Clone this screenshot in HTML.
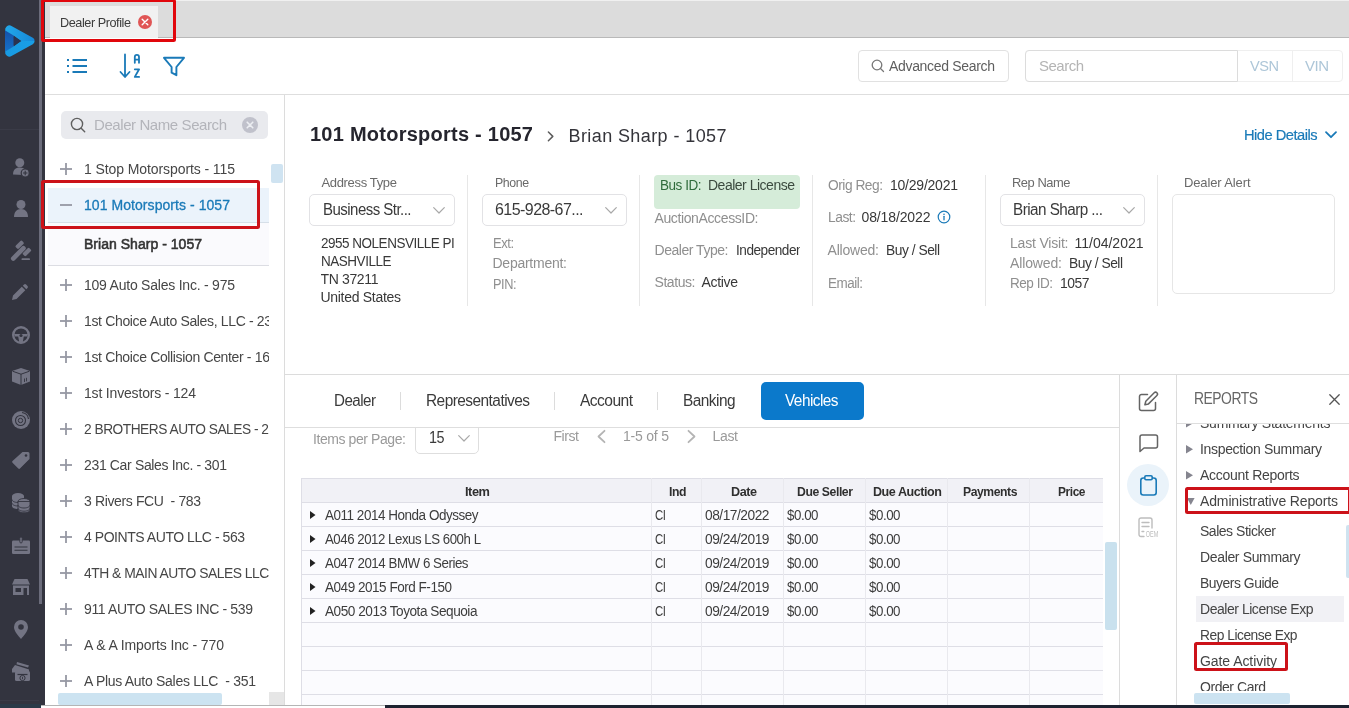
<!DOCTYPE html>
<html lang="en"><head><meta charset="utf-8"><title>Dealer Profile</title>
<style>
html,body{margin:0;padding:0;}
body{width:1349px;height:708px;overflow:hidden;position:relative;background:#fff;font-family:"Liberation Sans", sans-serif;}
div{position:absolute;box-sizing:border-box;}
svg{position:absolute;overflow:visible;}
.t{white-space:pre;}
</style></head><body>
<div style="left:45px;top:0px;width:1304px;height:38px;background:#dcdcdc;border-bottom:1px solid #b9b9b9;border-top:1px solid #f0f0f0;"></div>
<div style="left:50px;top:6px;width:108px;height:32px;background:#f1f1f1;"></div>
<div class="t" style="left:60px;top:14px;font-size:13px;line-height:17px;color:#3c3c3c;letter-spacing:-0.455px;"><span style="display:inline-block;transform-origin:0 50%;transform:scaleX(0.9746)">Dealer Profile</span></div>
<svg style="left:138.200px;top:15.300px" width="14" height="14" viewBox="0 0 14 14"><circle cx="7" cy="7" r="7" fill="#e05555"/><path d="M4.200 4.200l5.600 5.600M9.800 4.200l-5.600 5.600" stroke="#fff" stroke-width="1.400" stroke-linecap="round"/></svg>
<div style="left:45px;top:38px;width:1304px;height:57px;background:#fff;border-bottom:1px solid #dedede;"></div>
<svg style="left:66px;top:58px" width="22" height="16" viewBox="0 0 22 16"><g stroke="#1a7ab8" stroke-width="1.900" fill="none"><path d="M6.500 2h14.500M6.500 8h14.500M6.500 14h14.500"/><path d="M1 2h2M1 8h2M1 14h2"/></g></svg>
<svg style="left:119px;top:53px" width="24" height="26" viewBox="0 0 24 26"><g stroke="#1a7ab8" stroke-width="1.8" fill="none" stroke-linecap="round" stroke-linejoin="round"><path d="M6 1.5v22M1.5 19l4.5 5 4.5-5"/><path d="M15.800 9.800V3.900a2.100 2.100 0 0 1 4.200 0v5.900M15.800 6.600h4.200"/><path d="M15.800 16.300h4.300l-4.300 7.600h4.300"/></g></svg>
<svg style="left:162px;top:55.800px" width="24" height="22" viewBox="0 0 24 22"><path d="M2 1.800h20l-7.600 9.200v8.200l-4.800-2.500v-5.700z" stroke="#1a7ab8" stroke-width="1.9" fill="none" stroke-linejoin="round"/></svg>
<div style="left:858px;top:50px;width:151px;height:32px;background:#fff;border:1px solid #e1e1e1;border-radius:4px;"></div>
<svg style="left:871px;top:59px" width="14" height="14" viewBox="0 0 14 14"><circle cx="6" cy="6" r="4.800" stroke="#777" stroke-width="1.300" fill="none"/><path d="M9.500 9.500l3 3" stroke="#777" stroke-width="1.300" stroke-linecap="round"/></svg>
<div class="t" style="left:889px;top:57px;font-size:14px;line-height:18px;color:#5e5e5e;letter-spacing:-0.324px;">Advanced Search</div>
<div style="left:1025px;top:50px;width:318px;height:32px;background:#fff;border:1px solid #efefef;border-radius:4px;"></div>
<div style="left:1025px;top:50px;width:213px;height:32px;background:#fff;border:1px solid #dcdcdc;border-radius:4px 0 0 4px;"></div>
<div style="left:1292px;top:51px;width:1px;height:30px;background:#efefef;"></div>
<div class="t" style="left:1039px;top:56px;font-size:15px;line-height:20px;color:#b4b4b4;letter-spacing:-0.506px;">Search</div>
<div class="t" style="left:1250px;top:56px;font-size:15px;line-height:20px;color:#adc6d8;letter-spacing:-0.525px;"><span style="display:inline-block;transform-origin:0 50%;transform:scaleX(0.9734)">VSN</span></div>
<div class="t" style="left:1305px;top:56px;font-size:15px;line-height:20px;color:#adc6d8;letter-spacing:-0.508px;">VIN</div>
<div style="left:284px;top:95px;width:1px;height:613px;background:#dcdcdc;"></div>
<div style="left:61px;top:111px;width:207px;height:28px;background:#e9eaee;border-radius:5px;"></div>
<svg style="left:70px;top:117px" width="17" height="17" viewBox="0 0 17 17"><circle cx="7" cy="7" r="5.600" stroke="#5f5f5f" stroke-width="1.400" fill="none"/><path d="M11.200 11.200l3.500 3.500" stroke="#5f5f5f" stroke-width="1.400" stroke-linecap="round"/></svg>
<div class="t" style="left:94px;top:115px;font-size:15px;line-height:20px;color:#b3b4ba;letter-spacing:-0.415px;">Dealer Name Search</div>
<svg style="left:242px;top:117px" width="16" height="16" viewBox="0 0 16 16"><circle cx="8" cy="8" r="8" fill="#c0c1cb"/><path d="M5.200 5.200l5.600 5.600M10.800 5.200l-5.600 5.600" stroke="#eceef2" stroke-width="1.600" stroke-linecap="round"/></svg>
<div style="left:48px;top:188px;width:221px;height:35px;background:#ebf3fb;border-bottom:1px solid #d6dfe8;"></div>
<div style="left:48px;top:223px;width:221px;height:43px;background:#fafafd;border-bottom:1px solid #dcdde3;"></div>
<svg style="left:60px;top:163px" width="12" height="12" viewBox="0 0 12 12"><g stroke="#9698a3" stroke-width="1.800" fill="none"><path d="M0 6h12"/><path d="M6 0v12"/></g></svg>
<div class="t" style="left:84px;top:160px;font-size:14px;line-height:18px;color:#464646;letter-spacing:-0.089px;width:185px;overflow:hidden;">1 Stop Motorsports - 115</div>
<svg style="left:60px;top:279px" width="12" height="12" viewBox="0 0 12 12"><g stroke="#9698a3" stroke-width="1.800" fill="none"><path d="M0 6h12"/><path d="M6 0v12"/></g></svg>
<div class="t" style="left:84px;top:276px;font-size:14px;line-height:18px;color:#464646;letter-spacing:-0.227px;width:185px;overflow:hidden;">109 Auto Sales Inc. - 975</div>
<svg style="left:60px;top:315px" width="12" height="12" viewBox="0 0 12 12"><g stroke="#9698a3" stroke-width="1.800" fill="none"><path d="M0 6h12"/><path d="M6 0v12"/></g></svg>
<div class="t" style="left:84px;top:312px;font-size:14px;line-height:18px;color:#464646;letter-spacing:-0.347px;width:185px;overflow:hidden;">1st Choice Auto Sales, LLC - 236</div>
<svg style="left:60px;top:351px" width="12" height="12" viewBox="0 0 12 12"><g stroke="#9698a3" stroke-width="1.800" fill="none"><path d="M0 6h12"/><path d="M6 0v12"/></g></svg>
<div class="t" style="left:84px;top:348px;font-size:14px;line-height:18px;color:#464646;letter-spacing:-0.353px;width:185px;overflow:hidden;">1st Choice Collision Center - 167</div>
<svg style="left:60px;top:387px" width="12" height="12" viewBox="0 0 12 12"><g stroke="#9698a3" stroke-width="1.800" fill="none"><path d="M0 6h12"/><path d="M6 0v12"/></g></svg>
<div class="t" style="left:84px;top:384px;font-size:14px;line-height:18px;color:#464646;letter-spacing:-0.176px;width:185px;overflow:hidden;">1st Investors - 124</div>
<svg style="left:60px;top:423px" width="12" height="12" viewBox="0 0 12 12"><g stroke="#9698a3" stroke-width="1.800" fill="none"><path d="M0 6h12"/><path d="M6 0v12"/></g></svg>
<div class="t" style="left:84px;top:420px;font-size:14px;line-height:18px;color:#464646;letter-spacing:-0.49px;width:185px;overflow:hidden;"><span style="display:inline-block;transform-origin:0 50%;transform:scaleX(0.9803)">2 BROTHERS AUTO SALES - 222</span></div>
<svg style="left:60px;top:459px" width="12" height="12" viewBox="0 0 12 12"><g stroke="#9698a3" stroke-width="1.800" fill="none"><path d="M0 6h12"/><path d="M6 0v12"/></g></svg>
<div class="t" style="left:84px;top:456px;font-size:14px;line-height:18px;color:#464646;letter-spacing:-0.347px;width:185px;overflow:hidden;">231 Car Sales Inc. - 301</div>
<svg style="left:60px;top:495px" width="12" height="12" viewBox="0 0 12 12"><g stroke="#9698a3" stroke-width="1.800" fill="none"><path d="M0 6h12"/><path d="M6 0v12"/></g></svg>
<div class="t" style="left:84px;top:492px;font-size:14px;line-height:18px;color:#464646;letter-spacing:-0.372px;width:185px;overflow:hidden;">3 Rivers FCU  - 783</div>
<svg style="left:60px;top:531px" width="12" height="12" viewBox="0 0 12 12"><g stroke="#9698a3" stroke-width="1.800" fill="none"><path d="M0 6h12"/><path d="M6 0v12"/></g></svg>
<div class="t" style="left:84px;top:528px;font-size:14px;line-height:18px;color:#464646;letter-spacing:-0.451px;width:185px;overflow:hidden;">4 POINTS AUTO LLC - 563</div>
<svg style="left:60px;top:567px" width="12" height="12" viewBox="0 0 12 12"><g stroke="#9698a3" stroke-width="1.800" fill="none"><path d="M0 6h12"/><path d="M6 0v12"/></g></svg>
<div class="t" style="left:84px;top:564px;font-size:14px;line-height:18px;color:#464646;letter-spacing:-0.49px;width:185px;overflow:hidden;"><span style="display:inline-block;transform-origin:0 50%;transform:scaleX(0.9901)">4TH &amp; MAIN AUTO SALES LLC - 400</span></div>
<svg style="left:60px;top:603px" width="12" height="12" viewBox="0 0 12 12"><g stroke="#9698a3" stroke-width="1.800" fill="none"><path d="M0 6h12"/><path d="M6 0v12"/></g></svg>
<div class="t" style="left:84px;top:600px;font-size:14px;line-height:18px;color:#464646;letter-spacing:-0.344px;width:185px;overflow:hidden;">911 AUTO SALES INC - 539</div>
<svg style="left:60px;top:639px" width="12" height="12" viewBox="0 0 12 12"><g stroke="#9698a3" stroke-width="1.800" fill="none"><path d="M0 6h12"/><path d="M6 0v12"/></g></svg>
<div class="t" style="left:84px;top:636px;font-size:14px;line-height:18px;color:#464646;letter-spacing:-0.109px;width:185px;overflow:hidden;">A &amp; A Imports Inc - 770</div>
<svg style="left:60px;top:675px" width="12" height="12" viewBox="0 0 12 12"><g stroke="#9698a3" stroke-width="1.800" fill="none"><path d="M0 6h12"/><path d="M6 0v12"/></g></svg>
<div class="t" style="left:84px;top:672px;font-size:14px;line-height:18px;color:#464646;letter-spacing:-0.288px;width:185px;overflow:hidden;">A Plus Auto Sales LLC  - 351</div>
<svg style="left:60px;top:199px" width="12" height="12" viewBox="0 0 12 12"><g stroke="#9698a3" stroke-width="1.800" fill="none"><path d="M0 6h12"/></g></svg>
<div class="t" style="left:84px;top:196px;font-size:14px;line-height:18px;color:#1a7ab8;letter-spacing:0.06px;-webkit-text-stroke:0.3px #1a7ab8;">101 Motorsports - 1057</div>
<div class="t" style="left:84px;top:235px;font-size:14px;line-height:18px;color:#333;letter-spacing:0.028px;-webkit-text-stroke:0.550px #333;">Brian Sharp - 1057</div>
<div style="left:271px;top:164px;width:11.5px;height:19px;background:#cfe3f1;border-radius:2px;"></div>
<div style="left:58px;top:693px;width:164px;height:12px;background:#cce3f1;border-radius:2px;"></div>
<div style="left:269px;top:692px;width:15px;height:14px;background:#e6e6e6;"></div>
<div style="left:0px;top:0px;width:45px;height:708px;background:#33343f;"></div>
<div style="left:39px;top:0px;width:3px;height:604px;background:#6b6c7b;"></div>
<div style="left:0px;top:129px;width:39px;height:1px;background:#3a3b47;"></div>
<div style="left:0px;top:700px;width:39px;height:1px;background:#3a3b47;"></div>
<svg style="left:4px;top:24px" width="32" height="34" viewBox="0 0 32 34"><defs><linearGradient id="lg1" x1="0" y1="0" x2="1" y2="0"><stop offset="0" stop-color="#22a8ea"/><stop offset="1" stop-color="#1688d8"/></linearGradient><linearGradient id="lg2" x1="0" y1="0" x2="1" y2="0"><stop offset="0" stop-color="#189ae2"/><stop offset="1" stop-color="#1a9fe6"/></linearGradient><linearGradient id="lg3" x1="0" y1="0" x2="0" y2="1"><stop offset="0" stop-color="#1550a8"/><stop offset="1" stop-color="#1672c8"/></linearGradient></defs><path d="M1 6v22l9-5v-12z" fill="url(#lg3)"/><path d="M1.200 27.500a4.300 4.300 0 0 0 6.300 4.600l21.300-11.900a3.600 3.600 0 0 0 1.800-3.200h-9l-4.600 0l-7 5.300z" fill="url(#lg2)"/><path d="M1.200 6.500a4.300 4.300 0 0 1 6.300-4.600l21.300 11.900a3.600 3.600 0 0 1 1.800 3.200l-13.600 0l-7-5.300z" fill="url(#lg1)"/><path d="M9.500 12.200l7.800 4.800-7.800 4.800z" fill="#2a3350"/></svg>
<svg style="left:13px;top:157.5px" width="16" height="19" viewBox="0 0 16 19" fill="#737483"><circle cx="6.800" cy="4.800" r="4.500"/><path d="M0 16.500c0-4.500 2.500-7 6.800-7 3 0 5 1.200 6 3.200l-2 4.300z"/><circle cx="12.200" cy="15" r="4" stroke="#33343f" stroke-width="1.200"/><path d="M12.200 12.800v4.400M10 15h4.400" stroke="#33343f" stroke-width="1.100" fill="none"/></svg>
<svg style="left:13.5px;top:199.5px" width="14" height="17" viewBox="0 0 14 17" fill="#737483"><circle cx="7" cy="4.500" r="4.500"/><path d="M0 17c0-5 2.600-8 7-8s7 3 7 8z"/></svg>
<svg style="left:0px;top:0px" width="45" height="300" viewBox="0 0 45 300" fill="#737483"><g transform="translate(23.300,248.400) rotate(-45)"><rect x="-16.500" y="-2.300" width="19" height="4.600" rx="2.200"/><rect x="-4.500" y="-7.300" width="9" height="4.300" rx="1.300"/><rect x="-4.500" y="3" width="9" height="4.300" rx="1.300"/></g><rect x="21.500" y="258.200" width="8.500" height="1.900" rx="0.900"/></svg>
<svg style="left:12px;top:284px" width="16" height="16" viewBox="0 0 16 16" fill="#737483"><path d="M0 16l1-4.500 8.800-8.800 3.500 3.500-8.800 8.800zM10.800 1.700l1.200-1.200a1.500 1.500 0 0 1 2.100 0l1.400 1.400a1.500 1.500 0 0 1 0 2.100l-1.200 1.200z"/></svg>
<svg style="left:12px;top:326px" width="18" height="18" viewBox="0 0 18 18" fill="#737483"><circle cx="9" cy="9" r="7.800" fill="none" stroke="#737483" stroke-width="2.400"/><path d="M2 8h14l-1 2.500h-3.200l-1 5.500h-3.600l-1-5.500h-3.200z"/><circle cx="9" cy="9.500" r="1.600" fill="#33343f"/></svg>
<svg style="left:12px;top:368px" width="18" height="17" viewBox="0 0 18 17" fill="#737483"><path d="M9 0l9 3v10.500l-9 3.500-9-3.500v-10.500z"/><path d="M9 6v11M0.500 3.200l8.500 3 8.500-3" stroke="#33343f" stroke-width="1" fill="none"/><path d="M12.500 10.500v3.500M14.500 9.800v3.500" stroke="#33343f" stroke-width="0.900" fill="none"/></svg>
<svg style="left:12px;top:410.5px" width="18" height="18" viewBox="0 0 18 18" fill="#737483"><circle cx="9" cy="9" r="9"/><circle cx="8.500" cy="9.500" r="5" fill="none" stroke="#33343f" stroke-width="1.100"/><circle cx="8.500" cy="9.500" r="2.200" fill="none" stroke="#33343f" stroke-width="1"/><path d="M10 1.500a7.500 7.500 0 0 1 6.500 6.500" stroke="#33343f" stroke-width="1.200" fill="none"/></svg>
<svg style="left:12px;top:451px" width="18" height="18" viewBox="0 0 18 18" fill="#737483"><path d="M10.500 1h5.500a1.500 1.500 0 0 1 1.500 1.500v5.500l-9.500 9.500a1.200 1.200 0 0 1-1.700 0l-5.800-5.800a1.200 1.200 0 0 1 0-1.700z"/><circle cx="14" cy="4.500" r="1.300" fill="#33343f"/><path d="M17 9.500l-8 8" stroke="#33343f" stroke-width="0.800"/></svg>
<svg style="left:12px;top:493px" width="18" height="20" viewBox="0 0 18 20" fill="#737483"><ellipse cx="6" cy="3" rx="6" ry="3"/><path d="M0 3v10c0 1.700 2.700 3 6 3s6-1.300 6-3v-10z"/><path d="M0 6.500c0 1.700 2.700 3 6 3M0 10c0 1.700 2.700 3 6 3" stroke="#33343f" stroke-width="0.900" fill="none"/><g stroke="#33343f" stroke-width="0.900"><ellipse cx="12" cy="8.500" rx="6" ry="3"/><path d="M6 8.500v8.300c0 1.700 2.700 3 6 3s6-1.300 6-3v-8.300z"/></g><path d="M6 12c0 1.700 2.700 3 6 3s6-1.300 6-3M6 15.200c0 1.700 2.700 3 6 3s6-1.300 6-3" stroke="#33343f" stroke-width="0.900" fill="none"/></svg>
<svg style="left:12px;top:536.5px" width="18" height="17" viewBox="0 0 18 17" fill="#737483"><rect x="0" y="3.500" width="18" height="13.500" rx="1.200"/><rect x="7.800" y="0" width="2.400" height="6" rx="1.200" stroke="#33343f" stroke-width="0.900"/><path d="M2.500 10h13M2.500 13.200h13" stroke="#33343f" stroke-width="1.100"/></svg>
<svg style="left:12px;top:579px" width="18" height="16" viewBox="0 0 18 16" fill="#737483"><path d="M2.500 0h13l2.500 5.500h-18z"/><rect x="1" y="6.500" width="16" height="9.500"/><rect x="3.500" y="9" width="5.500" height="4" fill="#33343f"/><rect x="11.500" y="9" width="3.500" height="7" fill="#33343f"/></svg>
<svg style="left:14px;top:620px" width="14" height="19" viewBox="0 0 14 19" fill="#737483"><path d="M7 0a7 7 0 0 1 7 7c0 4.500-4.500 9-7 12-2.500-3-7-7.500-7-12a7 7 0 0 1 7-7z"/><circle cx="7" cy="7" r="2.800" fill="#33343f"/></svg>
<svg style="left:12px;top:662px" width="18" height="19" viewBox="0 0 18 19" fill="#737483"><path d="M5 0l12 3.500-1 2-11.500-3.300z"/><path d="M0 7l3-4 14 4.500v3h-17z"/><rect x="3" y="9" width="15" height="10" rx="1.500"/><path d="M5.500 12.500h10" stroke="#33343f" stroke-width="1.200"/><circle cx="10.500" cy="16" r="2.600" stroke="#33343f" stroke-width="1"/><path d="M10.500 14.800v2.400" stroke="#33343f" stroke-width="0.900"/></svg>
<div class="t" style="left:310px;top:121.47px;font-size:20px;line-height:26px;color:#25252e;font-weight:700;letter-spacing:0.245px;">101 Motorsports - 1057</div>
<svg style="left:547px;top:130.500px" width="8" height="11" viewBox="0 0 8 11"><path d="M1.400 1l4.400 4.400-4.400 4.400" stroke="#5c5c5c" stroke-width="1.500" fill="none" stroke-linecap="round" stroke-linejoin="round"/></svg>
<div class="t" style="left:568.5px;top:125.263px;font-size:18px;line-height:23px;color:#34343a;letter-spacing:0.406px;">Brian Sharp - 1057</div>
<div class="t" style="left:1243.5px;top:125.303px;font-size:15px;line-height:20px;color:#1a7ab8;letter-spacing:-0.525px;-webkit-text-stroke:0.2px #1a7ab8;"><span style="display:inline-block;transform-origin:0 50%;transform:scaleX(0.9787)">Hide Details</span></div>
<svg style="left:1325px;top:131px" width="12" height="8" viewBox="0 0 12 8"><path d="M1 1.200l5 5 5-5" stroke="#1a7ab8" stroke-width="1.800" fill="none" stroke-linecap="round" stroke-linejoin="round"/></svg>
<div style="left:467px;top:175px;width:1px;height:131px;background:#e7e7e7;"></div>
<div style="left:639px;top:175px;width:1px;height:131px;background:#e7e7e7;"></div>
<div style="left:812px;top:175px;width:1px;height:131px;background:#e7e7e7;"></div>
<div style="left:985px;top:175px;width:1px;height:131px;background:#e7e7e7;"></div>
<div style="left:1157px;top:175px;width:1px;height:131px;background:#e7e7e7;"></div>
<div class="t" style="left:321.5px;top:174.495px;font-size:13px;line-height:17px;color:#6a6a6a;letter-spacing:-0.342px;">Address Type</div>
<div style="left:309px;top:194px;width:146px;height:32px;background:#fff;border:1px solid #e2e2e5;border-radius:5px;"></div>
<div class="t" style="left:322.5px;top:199.456px;font-size:16px;line-height:21px;color:#3a3a3a;letter-spacing:-0.56px;"><span style="display:inline-block;transform-origin:0 50%;transform:scaleX(0.9372)">Business Str...</span></div>
<svg style="left:433px;top:207px" width="12" height="7" viewBox="0 0 12 7"><path d="M0.700 0.700l5.300 5.300 5.300-5.300" stroke="#a8a8a8" stroke-width="1.200" fill="none" stroke-linecap="round" stroke-linejoin="round"/></svg>
<div class="t" style="left:320.5px;top:234.149px;font-size:14px;line-height:18px;color:#383838;letter-spacing:-0.49px;width:134.5px;overflow:hidden;"><span style="display:inline-block;transform-origin:0 50%;transform:scaleX(0.962)">2955 NOLENSVILLE PIKE</span></div>
<div class="t" style="left:320.5px;top:252.149px;font-size:14px;line-height:18px;color:#383838;letter-spacing:-0.49px;width:134.5px;overflow:hidden;"><span style="display:inline-block;transform-origin:0 50%;transform:scaleX(0.9641)">NASHVILLE</span></div>
<div class="t" style="left:320.5px;top:270.149px;font-size:14px;line-height:18px;color:#383838;letter-spacing:-0.35px;width:134.5px;overflow:hidden;">TN 37211</div>
<div class="t" style="left:320.5px;top:288.149px;font-size:14px;line-height:18px;color:#383838;letter-spacing:-0.297px;width:134.5px;overflow:hidden;">United States</div>
<div class="t" style="left:494.5px;top:174.495px;font-size:13px;line-height:17px;color:#6a6a6a;letter-spacing:-0.455px;"><span style="display:inline-block;transform-origin:0 50%;transform:scaleX(0.9504)">Phone</span></div>
<div style="left:482px;top:194px;width:145px;height:32px;background:#fff;border:1px solid #e2e2e5;border-radius:5px;"></div>
<div class="t" style="left:495px;top:199.456px;font-size:16px;line-height:21px;color:#3a3a3a;letter-spacing:-0.557px;">615-928-67...</div>
<svg style="left:605px;top:207px" width="12" height="7" viewBox="0 0 12 7"><path d="M0.700 0.700l5.300 5.300 5.300-5.300" stroke="#a8a8a8" stroke-width="1.200" fill="none" stroke-linecap="round" stroke-linejoin="round"/></svg>
<div class="t" style="left:492.5px;top:234.149px;font-size:14px;line-height:18px;color:#8f8f8f;letter-spacing:-0.49px;"><span style="display:inline-block;transform-origin:0 50%;transform:scaleX(0.9269)">Ext:</span></div>
<div class="t" style="left:492.5px;top:254.149px;font-size:14px;line-height:18px;color:#8f8f8f;letter-spacing:-0.255px;">Department:</div>
<div class="t" style="left:492.5px;top:274.649px;font-size:14px;line-height:18px;color:#8f8f8f;letter-spacing:-0.49px;"><span style="display:inline-block;transform-origin:0 50%;transform:scaleX(0.9121)">PIN:</span></div>
<div style="left:654px;top:175px;width:146px;height:34px;background:#d5ecd9;border-radius:4px;"></div>
<div class="t" style="left:659.5px;top:176.149px;font-size:14px;line-height:18px;color:#2f6b3b;letter-spacing:-0.49px;"><span style="display:inline-block;transform-origin:0 50%;transform:scaleX(0.9659)">Bus ID:</span></div>
<div class="t" style="left:707.5px;top:176.149px;font-size:14px;line-height:18px;color:#3b4a3f;letter-spacing:-0.49px;"><span style="display:inline-block;transform-origin:0 50%;transform:scaleX(0.9998)">Dealer License</span></div>
<div class="t" style="left:654.5px;top:209.149px;font-size:14px;line-height:18px;color:#8f8f8f;letter-spacing:-0.381px;">AuctionAccessID:</div>
<div class="t" style="left:654.5px;top:241.149px;font-size:14px;line-height:18px;color:#8f8f8f;letter-spacing:-0.466px;">Dealer Type:</div>
<div class="t" style="left:735.5px;top:241.149px;font-size:14px;line-height:18px;color:#383838;letter-spacing:-0.49px;width:64.5px;overflow:hidden;"><span style="display:inline-block;transform-origin:0 50%;transform:scaleX(0.9716)">Independent</span></div>
<div class="t" style="left:654.5px;top:273.149px;font-size:14px;line-height:18px;color:#8f8f8f;letter-spacing:-0.432px;">Status:</div>
<div class="t" style="left:701.5px;top:273.149px;font-size:14px;line-height:18px;color:#383838;letter-spacing:-0.325px;">Active</div>
<div class="t" style="left:827.5px;top:175.649px;font-size:14px;line-height:18px;color:#8f8f8f;letter-spacing:-0.49px;"><span style="display:inline-block;transform-origin:0 50%;transform:scaleX(0.9821)">Orig Reg:</span></div>
<div class="t" style="left:890px;top:175.649px;font-size:14px;line-height:18px;color:#383838;letter-spacing:-0.231px;">10/29/2021</div>
<div class="t" style="left:827.5px;top:208.149px;font-size:14px;line-height:18px;color:#8f8f8f;letter-spacing:-0.49px;"><span style="display:inline-block;transform-origin:0 50%;transform:scaleX(0.9859)">Last:</span></div>
<div class="t" style="left:861.5px;top:208.149px;font-size:14px;line-height:18px;color:#383838;letter-spacing:-0.12px;">08/18/2022</div>
<svg style="left:937px;top:210px" width="14" height="14" viewBox="0 0 14 14"><circle cx="7" cy="7" r="5.800" stroke="#1a7ab8" stroke-width="1.200" fill="none"/><path d="M7 6.300v3.500" stroke="#1a7ab8" stroke-width="1.300" stroke-linecap="round"/><circle cx="7" cy="4.300" r="0.800" fill="#1a7ab8"/></svg>
<div class="t" style="left:827.5px;top:241.149px;font-size:14px;line-height:18px;color:#8f8f8f;letter-spacing:-0.203px;">Allowed:</div>
<div class="t" style="left:885.5px;top:241.149px;font-size:14px;line-height:18px;color:#383838;letter-spacing:-0.49px;"><span style="display:inline-block;transform-origin:0 50%;transform:scaleX(0.9867)">Buy / Sell</span></div>
<div class="t" style="left:827.5px;top:273.649px;font-size:14px;line-height:18px;color:#8f8f8f;letter-spacing:-0.49px;"><span style="display:inline-block;transform-origin:0 50%;transform:scaleX(0.9601)">Email:</span></div>
<div class="t" style="left:1012px;top:174.495px;font-size:13px;line-height:17px;color:#6a6a6a;letter-spacing:-0.455px;"><span style="display:inline-block;transform-origin:0 50%;transform:scaleX(0.9923)">Rep Name</span></div>
<div style="left:1000px;top:194px;width:145px;height:32px;background:#fff;border:1px solid #e2e2e5;border-radius:5px;"></div>
<div class="t" style="left:1013px;top:199.456px;font-size:16px;line-height:21px;color:#3a3a3a;letter-spacing:-0.56px;"><span style="display:inline-block;transform-origin:0 50%;transform:scaleX(0.953)">Brian Sharp ...</span></div>
<svg style="left:1123px;top:207px" width="12" height="7" viewBox="0 0 12 7"><path d="M0.700 0.700l5.300 5.300 5.300-5.300" stroke="#a8a8a8" stroke-width="1.200" fill="none" stroke-linecap="round" stroke-linejoin="round"/></svg>
<div class="t" style="left:1010px;top:234.149px;font-size:14px;line-height:18px;color:#8f8f8f;letter-spacing:-0.194px;">Last Visit:</div>
<div class="t" style="left:1074.5px;top:234.149px;font-size:14px;line-height:18px;color:#383838;letter-spacing:-0.003px;">11/04/2021</div>
<div class="t" style="left:1010px;top:254.149px;font-size:14px;line-height:18px;color:#8f8f8f;letter-spacing:-0.132px;">Allowed:</div>
<div class="t" style="left:1068.5px;top:254.149px;font-size:14px;line-height:18px;color:#383838;letter-spacing:-0.49px;"><span style="display:inline-block;transform-origin:0 50%;transform:scaleX(0.9867)">Buy / Sell</span></div>
<div class="t" style="left:1010px;top:274.149px;font-size:14px;line-height:18px;color:#8f8f8f;letter-spacing:-0.49px;"><span style="display:inline-block;transform-origin:0 50%;transform:scaleX(0.9657)">Rep ID:</span></div>
<div class="t" style="left:1060px;top:274.149px;font-size:14px;line-height:18px;color:#383838;letter-spacing:-0.49px;"><span style="display:inline-block;transform-origin:0 50%;transform:scaleX(0.9937)">1057</span></div>
<div class="t" style="left:1184px;top:174.495px;font-size:13px;line-height:17px;color:#6a6a6a;letter-spacing:-0.129px;">Dealer Alert</div>
<div style="left:1172px;top:194px;width:163px;height:100px;background:#fff;border:1px solid #e6e6e6;border-radius:5px;"></div>
<div style="left:285px;top:374px;width:1064px;height:1px;background:#dcdcdc;"></div>
<div class="t" style="left:333.5px;top:390.256px;font-size:16px;line-height:21px;color:#3a3a3a;letter-spacing:-0.56px;"><span style="display:inline-block;transform-origin:0 50%;transform:scaleX(0.9472)">Dealer</span></div>
<div class="t" style="left:425.5px;top:390.256px;font-size:16px;line-height:21px;color:#3a3a3a;letter-spacing:-0.56px;"><span style="display:inline-block;transform-origin:0 50%;transform:scaleX(0.9649)">Representatives</span></div>
<div class="t" style="left:579.5px;top:390.256px;font-size:16px;line-height:21px;color:#3a3a3a;letter-spacing:-0.56px;"><span style="display:inline-block;transform-origin:0 50%;transform:scaleX(0.9733)">Account</span></div>
<div class="t" style="left:682.5px;top:390.256px;font-size:16px;line-height:21px;color:#3a3a3a;letter-spacing:-0.56px;"><span style="display:inline-block;transform-origin:0 50%;transform:scaleX(0.9639)">Banking</span></div>
<div style="left:400px;top:392px;width:1px;height:18px;background:#dcdcdc;"></div>
<div style="left:554px;top:392px;width:1px;height:18px;background:#dcdcdc;"></div>
<div style="left:657px;top:392px;width:1px;height:18px;background:#dcdcdc;"></div>
<div style="left:761px;top:382px;width:103px;height:38px;background:#0b79cb;border-radius:5px;"></div>
<div class="t" style="left:785px;top:390.256px;font-size:16px;line-height:21px;color:#fff;letter-spacing:-0.56px;"><span style="display:inline-block;transform-origin:0 50%;transform:scaleX(0.961)">Vehicles</span></div>
<div style="left:285px;top:427px;width:834px;height:1px;background:#dedede;"></div>
<div class="t" style="left:313px;top:429.849px;font-size:14px;line-height:18px;color:#9a9a9a;letter-spacing:-0.416px;">Items per Page:</div>
<div style="left:415px;top:420px;width:64px;height:34px;background:#fff;border:1px solid #dedede;border-radius:5px;clip-path:inset(8px 0 0 0);"></div>
<div class="t" style="left:429px;top:426.956px;font-size:16px;line-height:21px;color:#3a3a3a;letter-spacing:-0.56px;"><span style="display:inline-block;transform-origin:0 50%;transform:scaleX(0.8992)">15</span></div>
<svg style="left:457.5px;top:434.5px" width="12" height="7" viewBox="0 0 12 7"><path d="M0.700 0.700l5.300 5.300 5.300-5.300" stroke="#a8a8a8" stroke-width="1.200" fill="none" stroke-linecap="round" stroke-linejoin="round"/></svg>
<div class="t" style="left:553.5px;top:427.449px;font-size:14px;line-height:18px;color:#9a9a9a;letter-spacing:-0.43px;">First</div>
<div class="t" style="left:623px;top:427.449px;font-size:14px;line-height:18px;color:#9a9a9a;letter-spacing:-0.212px;">1-5 of 5</div>
<div class="t" style="left:712.5px;top:427.449px;font-size:14px;line-height:18px;color:#9a9a9a;letter-spacing:-0.323px;">Last</div>
<svg style="left:597px;top:430px" width="9" height="13" viewBox="0 0 9 13"><path d="M7.500 0.800l-6 5.700 6 5.700" stroke="#b4b4b4" stroke-width="1.800" fill="none" stroke-linecap="round" stroke-linejoin="round"/></svg>
<svg style="left:686.500px;top:430px" width="9" height="13" viewBox="0 0 9 13"><path d="M1.500 0.800l6 5.700-6 5.700" stroke="#b4b4b4" stroke-width="1.800" fill="none" stroke-linecap="round" stroke-linejoin="round"/></svg>
<div style="left:301px;top:478px;width:802px;height:228px;background:#fbfbfe;"></div>
<div style="left:301px;top:478px;width:802px;height:25px;background:#f1f1f6;"></div>
<div style="left:301px;top:478px;width:802px;height:1px;background:#dedee6;"></div>
<div style="left:301px;top:502px;width:802px;height:1px;background:#dedee6;"></div>
<div style="left:301px;top:526px;width:802px;height:1px;background:#dedee6;"></div>
<div style="left:301px;top:550px;width:802px;height:1px;background:#dedee6;"></div>
<div style="left:301px;top:574px;width:802px;height:1px;background:#dedee6;"></div>
<div style="left:301px;top:598px;width:802px;height:1px;background:#dedee6;"></div>
<div style="left:301px;top:622px;width:802px;height:1px;background:#dedee6;"></div>
<div style="left:301px;top:646px;width:802px;height:1px;background:#dedee6;"></div>
<div style="left:301px;top:670px;width:802px;height:1px;background:#dedee6;"></div>
<div style="left:301px;top:694px;width:802px;height:1px;background:#dedee6;"></div>
<div style="left:301px;top:478px;width:1px;height:228px;background:#dedee6;"></div>
<div style="left:651px;top:478px;width:1px;height:228px;background:#e9e9ee;"></div>
<div style="left:701px;top:478px;width:1px;height:228px;background:#e9e9ee;"></div>
<div style="left:783px;top:478px;width:1px;height:228px;background:#e9e9ee;"></div>
<div style="left:865px;top:478px;width:1px;height:228px;background:#e9e9ee;"></div>
<div style="left:947px;top:478px;width:1px;height:228px;background:#e9e9ee;"></div>
<div style="left:1029px;top:478px;width:1px;height:228px;background:#e9e9ee;"></div>
<div class="t" style="left:464.5px;top:482.695px;font-size:13px;line-height:17px;color:#2f2f2f;font-weight:700;letter-spacing:-0.455px;"><span style="display:inline-block;transform-origin:0 50%;transform:scaleX(0.9854)">Item</span></div>
<div class="t" style="left:668.5px;top:482.695px;font-size:13px;line-height:17px;color:#2f2f2f;font-weight:700;letter-spacing:-0.455px;"><span style="display:inline-block;transform-origin:0 50%;transform:scaleX(0.9414)">Ind</span></div>
<div class="t" style="left:730.5px;top:482.695px;font-size:13px;line-height:17px;color:#2f2f2f;font-weight:700;letter-spacing:-0.455px;"><span style="display:inline-block;transform-origin:0 50%;transform:scaleX(0.9693)">Date</span></div>
<div class="t" style="left:797px;top:482.695px;font-size:13px;line-height:17px;color:#2f2f2f;font-weight:700;letter-spacing:-0.455px;"><span style="display:inline-block;transform-origin:0 50%;transform:scaleX(0.9412)">Due Seller</span></div>
<div class="t" style="left:872.5px;top:482.695px;font-size:13px;line-height:17px;color:#2f2f2f;font-weight:700;letter-spacing:-0.455px;"><span style="display:inline-block;transform-origin:0 50%;transform:scaleX(0.9647)">Due Auction</span></div>
<div class="t" style="left:962.5px;top:482.695px;font-size:13px;line-height:17px;color:#2f2f2f;font-weight:700;letter-spacing:-0.455px;"><span style="display:inline-block;transform-origin:0 50%;transform:scaleX(0.9358)">Payments</span></div>
<div class="t" style="left:1057.5px;top:482.695px;font-size:13px;line-height:17px;color:#2f2f2f;font-weight:700;letter-spacing:-0.455px;"><span style="display:inline-block;transform-origin:0 50%;transform:scaleX(0.9169)">Price</span></div>
<svg style="left:310px;top:511.2px" width="6" height="8" viewBox="0 0 6 8"><path d="M0 0l5.500 4-5.500 4z" fill="#222"/></svg>
<div class="t" style="left:325px;top:506.149px;font-size:14px;line-height:18px;color:#3d3d3d;letter-spacing:-0.49px;"><span style="display:inline-block;transform-origin:0 50%;transform:scaleX(0.9629)">A011 2014 Honda Odyssey</span></div>
<div class="t" style="left:655px;top:506.149px;font-size:14px;line-height:18px;color:#3d3d3d;letter-spacing:-0.49px;"><span style="display:inline-block;transform-origin:0 50%;transform:scaleX(0.8142)">CI</span></div>
<div class="t" style="left:705px;top:506.149px;font-size:14px;line-height:18px;color:#3d3d3d;letter-spacing:-0.49px;"><span style="display:inline-block;transform-origin:0 50%;transform:scaleX(0.9822)">08/17/2022</span></div>
<div class="t" style="left:787px;top:506.149px;font-size:14px;line-height:18px;color:#3d3d3d;letter-spacing:-0.49px;"><span style="display:inline-block;transform-origin:0 50%;transform:scaleX(0.952)">$0.00</span></div>
<div class="t" style="left:869px;top:506.149px;font-size:14px;line-height:18px;color:#3d3d3d;letter-spacing:-0.49px;"><span style="display:inline-block;transform-origin:0 50%;transform:scaleX(0.952)">$0.00</span></div>
<svg style="left:310px;top:535.2px" width="6" height="8" viewBox="0 0 6 8"><path d="M0 0l5.500 4-5.500 4z" fill="#222"/></svg>
<div class="t" style="left:325px;top:530.149px;font-size:14px;line-height:18px;color:#3d3d3d;letter-spacing:-0.49px;"><span style="display:inline-block;transform-origin:0 50%;transform:scaleX(0.9458)">A046 2012 Lexus LS 600h L</span></div>
<div class="t" style="left:655px;top:530.149px;font-size:14px;line-height:18px;color:#3d3d3d;letter-spacing:-0.49px;"><span style="display:inline-block;transform-origin:0 50%;transform:scaleX(0.8142)">CI</span></div>
<div class="t" style="left:705px;top:530.149px;font-size:14px;line-height:18px;color:#3d3d3d;letter-spacing:-0.49px;"><span style="display:inline-block;transform-origin:0 50%;transform:scaleX(0.9822)">09/24/2019</span></div>
<div class="t" style="left:787px;top:530.149px;font-size:14px;line-height:18px;color:#3d3d3d;letter-spacing:-0.49px;"><span style="display:inline-block;transform-origin:0 50%;transform:scaleX(0.952)">$0.00</span></div>
<div class="t" style="left:869px;top:530.149px;font-size:14px;line-height:18px;color:#3d3d3d;letter-spacing:-0.49px;"><span style="display:inline-block;transform-origin:0 50%;transform:scaleX(0.952)">$0.00</span></div>
<svg style="left:310px;top:559.2px" width="6" height="8" viewBox="0 0 6 8"><path d="M0 0l5.500 4-5.500 4z" fill="#222"/></svg>
<div class="t" style="left:325px;top:554.149px;font-size:14px;line-height:18px;color:#3d3d3d;letter-spacing:-0.49px;"><span style="display:inline-block;transform-origin:0 50%;transform:scaleX(0.9516)">A047 2014 BMW 6 Series</span></div>
<div class="t" style="left:655px;top:554.149px;font-size:14px;line-height:18px;color:#3d3d3d;letter-spacing:-0.49px;"><span style="display:inline-block;transform-origin:0 50%;transform:scaleX(0.8142)">CI</span></div>
<div class="t" style="left:705px;top:554.149px;font-size:14px;line-height:18px;color:#3d3d3d;letter-spacing:-0.49px;"><span style="display:inline-block;transform-origin:0 50%;transform:scaleX(0.9822)">09/24/2019</span></div>
<div class="t" style="left:787px;top:554.149px;font-size:14px;line-height:18px;color:#3d3d3d;letter-spacing:-0.49px;"><span style="display:inline-block;transform-origin:0 50%;transform:scaleX(0.952)">$0.00</span></div>
<div class="t" style="left:869px;top:554.149px;font-size:14px;line-height:18px;color:#3d3d3d;letter-spacing:-0.49px;"><span style="display:inline-block;transform-origin:0 50%;transform:scaleX(0.952)">$0.00</span></div>
<svg style="left:310px;top:583.2px" width="6" height="8" viewBox="0 0 6 8"><path d="M0 0l5.500 4-5.500 4z" fill="#222"/></svg>
<div class="t" style="left:325px;top:578.149px;font-size:14px;line-height:18px;color:#3d3d3d;letter-spacing:-0.49px;"><span style="display:inline-block;transform-origin:0 50%;transform:scaleX(0.9653)">A049 2015 Ford F-150</span></div>
<div class="t" style="left:655px;top:578.149px;font-size:14px;line-height:18px;color:#3d3d3d;letter-spacing:-0.49px;"><span style="display:inline-block;transform-origin:0 50%;transform:scaleX(0.8142)">CI</span></div>
<div class="t" style="left:705px;top:578.149px;font-size:14px;line-height:18px;color:#3d3d3d;letter-spacing:-0.49px;"><span style="display:inline-block;transform-origin:0 50%;transform:scaleX(0.9822)">09/24/2019</span></div>
<div class="t" style="left:787px;top:578.149px;font-size:14px;line-height:18px;color:#3d3d3d;letter-spacing:-0.49px;"><span style="display:inline-block;transform-origin:0 50%;transform:scaleX(0.952)">$0.00</span></div>
<div class="t" style="left:869px;top:578.149px;font-size:14px;line-height:18px;color:#3d3d3d;letter-spacing:-0.49px;"><span style="display:inline-block;transform-origin:0 50%;transform:scaleX(0.952)">$0.00</span></div>
<svg style="left:310px;top:607.2px" width="6" height="8" viewBox="0 0 6 8"><path d="M0 0l5.500 4-5.500 4z" fill="#222"/></svg>
<div class="t" style="left:325px;top:602.149px;font-size:14px;line-height:18px;color:#3d3d3d;letter-spacing:-0.49px;"><span style="display:inline-block;transform-origin:0 50%;transform:scaleX(0.9737)">A050 2013 Toyota Sequoia</span></div>
<div class="t" style="left:655px;top:602.149px;font-size:14px;line-height:18px;color:#3d3d3d;letter-spacing:-0.49px;"><span style="display:inline-block;transform-origin:0 50%;transform:scaleX(0.8142)">CI</span></div>
<div class="t" style="left:705px;top:602.149px;font-size:14px;line-height:18px;color:#3d3d3d;letter-spacing:-0.49px;"><span style="display:inline-block;transform-origin:0 50%;transform:scaleX(0.9822)">09/24/2019</span></div>
<div class="t" style="left:787px;top:602.149px;font-size:14px;line-height:18px;color:#3d3d3d;letter-spacing:-0.49px;"><span style="display:inline-block;transform-origin:0 50%;transform:scaleX(0.952)">$0.00</span></div>
<div class="t" style="left:869px;top:602.149px;font-size:14px;line-height:18px;color:#3d3d3d;letter-spacing:-0.49px;"><span style="display:inline-block;transform-origin:0 50%;transform:scaleX(0.952)">$0.00</span></div>
<div style="left:1105px;top:542px;width:12px;height:88px;background:#c9e1ee;border-radius:2px;"></div>
<div style="left:1119px;top:375px;width:1px;height:331px;background:#dcdcdc;"></div>
<div style="left:1176px;top:375px;width:1px;height:331px;background:#dcdcdc;"></div>
<svg style="left:1138px;top:391px" width="21" height="21" viewBox="0 0 21 21"><g stroke="#646464" stroke-width="1.500" fill="none" stroke-linecap="round" stroke-linejoin="round"><path d="M9.500 3.500H3.500a2 2 0 0 0-2 2v12a2 2 0 0 0 2 2h12a2 2 0 0 0 2-2v-6"/><path d="M16.200 1.800a1.900 1.900 0 0 1 2.700 2.700l-8.400 8.400-3.600 0.900 0.900-3.600z"/></g></svg>
<svg style="left:1138.500px;top:434px" width="20" height="19" viewBox="0 0 20 19"><path d="M1 17.500v-14.500a2 2 0 0 1 2-2h13.500a2 2 0 0 1 2 2v9a2 2 0 0 1-2 2h-11.500z" stroke="#646464" stroke-width="1.500" fill="none" stroke-linejoin="round"/></svg>
<div style="left:1127px;top:464px;width:42px;height:42px;background:#eaf3fa;border-radius:50%;"></div>
<svg style="left:1140px;top:475px" width="17" height="21" viewBox="0 0 17 21"><g stroke="#1a7ab8" stroke-width="1.600" fill="none" stroke-linejoin="round"><rect x="0.800" y="3" width="15.400" height="17" rx="2.500"/><rect x="4.800" y="0.800" width="7.400" height="4" rx="1.200" fill="#eaf3fa"/></g></svg>
<svg style="left:1138px;top:517px" width="21" height="21" viewBox="0 0 21 21"><g stroke="#bdbdbd" stroke-width="1.400" fill="none" stroke-linecap="round" stroke-linejoin="round"><path d="M6 19.500h-3a2 2 0 0 1-2-2v-14.500a2 2 0 0 1 2-2h9a2 2 0 0 1 2 2v8"/><path d="M4 5.500h7M4 9.500h7M4 14.500h1.800"/></g><text x="7.800" y="20.200" font-family="Liberation Sans, sans-serif" font-size="8.500" fill="#bdbdbd" textLength="12.500" lengthAdjust="spacingAndGlyphs">OEM</text></svg>
<div class="t" style="left:1193.5px;top:388.156px;font-size:16px;line-height:21px;color:#666;letter-spacing:-0.56px;"><span style="display:inline-block;transform-origin:0 50%;transform:scaleX(0.8684)">REPORTS</span></div>
<svg style="left:1329px;top:394px" width="11" height="11" viewBox="0 0 11 11"><path d="M0.800 0.800l9.400 9.400M10.200 0.800l-9.400 9.400" stroke="#555" stroke-width="1.300" stroke-linecap="round"/></svg>
<div style="left:1177px;top:423px;width:172px;height:1px;background:#dedede;"></div>
<div style="left:1177px;top:424px;width:172px;height:266.800px;overflow:hidden;">
<div style="left:19px;top:172px;width:148px;height:26px;background:#f1f1f5;"></div>
<svg style="left:9px;top:-4.800000000000011px" width="7" height="9" viewBox="0 0 7 9"><path d="M0 0l7 4.300-7 4.300z" fill="#85858f"/></svg>
<svg style="left:9px;top:21.19999999999999px" width="7" height="9" viewBox="0 0 7 9"><path d="M0 0l7 4.300-7 4.300z" fill="#85858f"/></svg>
<svg style="left:9px;top:47.19999999999999px" width="7" height="9" viewBox="0 0 7 9"><path d="M0 0l7 4.300-7 4.300z" fill="#85858f"/></svg>
<svg style="left:9.799999999999955px;top:73.80000000000001px" width="8" height="7" viewBox="0 0 8 7"><path d="M0 0h7.600l-3.800 7z" fill="#85858f"/></svg>
<div class="t" style="left:23px;top:-9.651px;font-size:14px;line-height:18px;color:#444;letter-spacing:-0.242px;">Summary Statements</div>
<div class="t" style="left:23px;top:16.349px;font-size:14px;line-height:18px;color:#444;letter-spacing:-0.33px;">Inspection Summary</div>
<div class="t" style="left:23px;top:42.149px;font-size:14px;line-height:18px;color:#444;letter-spacing:-0.286px;">Account Reports</div>
<div class="t" style="left:23px;top:68.149px;font-size:14px;line-height:18px;color:#444;letter-spacing:-0.135px;">Administrative Reports</div>
<div class="t" style="left:23px;top:97.849px;font-size:14px;line-height:18px;color:#444;letter-spacing:-0.475px;">Sales Sticker</div>
<div class="t" style="left:23px;top:123.949px;font-size:14px;line-height:18px;color:#444;letter-spacing:-0.349px;">Dealer Summary</div>
<div class="t" style="left:23px;top:149.849px;font-size:14px;line-height:18px;color:#444;letter-spacing:-0.49px;"><span style="display:inline-block;transform-origin:0 50%;transform:scaleX(0.9945)">Buyers Guide</span></div>
<div class="t" style="left:23px;top:175.849px;font-size:14px;line-height:18px;color:#444;letter-spacing:-0.465px;">Dealer License Exp</div>
<div class="t" style="left:23px;top:201.849px;font-size:14px;line-height:18px;color:#444;letter-spacing:-0.49px;"><span style="display:inline-block;transform-origin:0 50%;transform:scaleX(0.985)">Rep License Exp</span></div>
<div class="t" style="left:23px;top:227.649px;font-size:14px;line-height:18px;color:#444;letter-spacing:-0.068px;">Gate Activity</div>
<div class="t" style="left:23px;top:253.849px;font-size:14px;line-height:18px;color:#444;letter-spacing:-0.448px;">Order Card</div>
</div>
<div style="left:1346px;top:525px;width:4px;height:53px;background:#cfe3f0;border-radius:2px 0 0 2px;"></div>
<div style="left:1194px;top:693px;width:96px;height:11px;background:#cce3f1;border-radius:2px;"></div>
<div style="left:41px;top:705px;width:344px;height:1px;background:#b5b5b5;"></div>
<div style="left:41px;top:706px;width:344px;height:2px;background:#fff;"></div>
<div style="left:385px;top:705px;width:964px;height:3px;background:#1d2230;"></div>
<div style="left:0px;top:704px;width:41px;height:4px;background:#2b3a48;"></div>
<div style="left:40.5px;top:-1.5px;width:135.5px;height:43.5px;border:3px solid #e1060c;border-radius:2.500px;"></div>
<div style="left:41px;top:180px;width:219px;height:49px;border:3px solid #cc1219;border-radius:2.500px;"></div>
<div style="left:1185px;top:487.3px;width:166px;height:26.7px;border:3px solid #cc1219;border-radius:2.500px;"></div>
<div style="left:1194.3px;top:642.3px;width:93.7px;height:28.4px;border:3px solid #cc1219;border-radius:2.500px;"></div>
</body></html>
